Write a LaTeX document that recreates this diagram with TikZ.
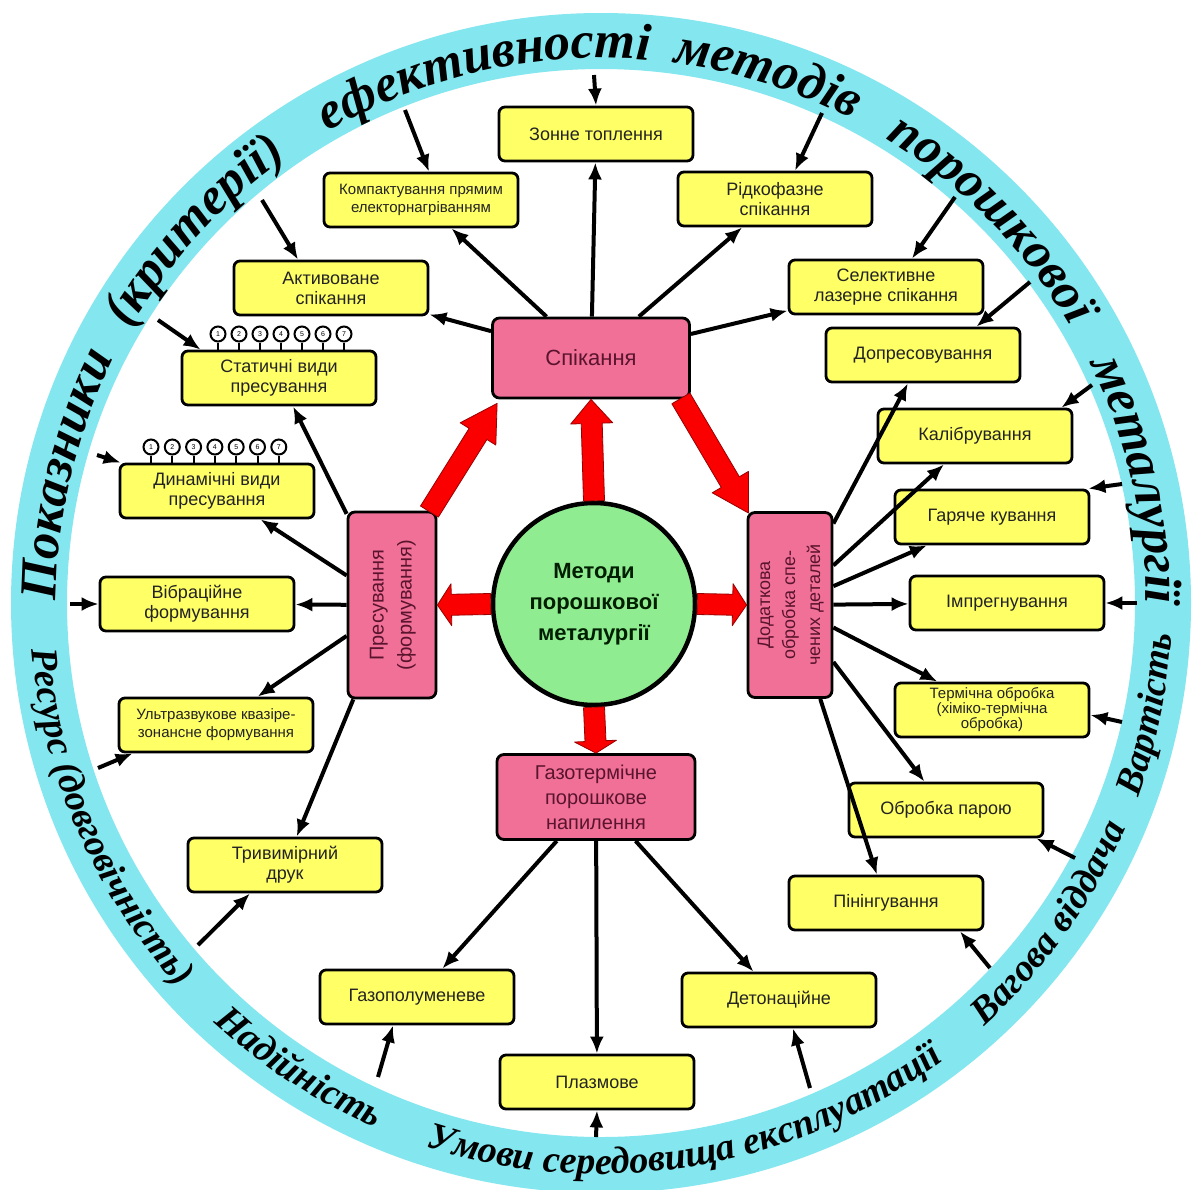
\documentclass[tikz,border=0pt]{standalone}
\usepackage{fontspec}
\setmainfont{Liberation Sans}
\newfontfamily\ringfont{Liberation Serif}
\usetikzlibrary{arrows.meta,calc,decorations.text}

\definecolor{ringcyan}{RGB}{132,230,238}
\definecolor{boxyellow}{RGB}{255,255,102}
\definecolor{boxpink}{RGB}{240,112,152}
\definecolor{pinktext}{RGB}{90,20,45}
\definecolor{coregreen}{RGB}{144,236,144}
\definecolor{fatred}{RGB}{250,0,0}
\definecolor{boxtext}{RGB}{35,35,35}

\newcommand\topringfont{\ringfont\bfseries\itshape\fontsize{52}{52}\selectfont}
\newcommand\botringfont{\ringfont\bfseries\itshape\fontsize{38}{38}\selectfont}

% word centred on the upper ring, read clockwise: mid angle, radius, text
\newcommand\topword[3]{%
  \path[decorate, decoration={text along path, text align=center,
    text={|\topringfont|#3}}] ($(C)+(#1+40:#2)$) arc[start angle=#1+40, end angle=#1-40, radius=#2];}
% word centred on the lower ring, read counter-clockwise
\newcommand\botword[3]{%
  \path[decorate, decoration={text along path, text align=center,
    text={|\botringfont|#3}}] ($(C)+(#1-40:#2)$) arc[start angle=#1-40, end angle=#1+40, radius=#2];}

% thick red block arrow: [head length] from, to
\newcommand\fatarrow[3][24]{%
  \coordinate (fa-h) at ($(#3)!#1pt!(#2)$);
  \filldraw[fill=fatred, draw=red!60!black, line width=0.8pt, line join=round]
    ($(#2)!10.5pt!90:(#3)$) -- ($(fa-h)!10.5pt!-90:(#2)$) -- ($(fa-h)!21pt!-90:(#2)$)
    -- (#3) -- ($(fa-h)!21pt!90:(#2)$) -- ($(fa-h)!10.5pt!90:(#2)$)
    -- ($(#2)!10.5pt!-90:(#3)$) -- cycle;}

\begin{document}
\begin{tikzpicture}[x=1pt,y=1pt,
  ybox/.style={draw=black, line width=2.8pt, fill=boxyellow, rounded corners=6pt,
    minimum width=194pt, minimum height=54pt, align=center, inner sep=2pt,
    text=boxtext, font=\fontsize{18}{20}\selectfont},
  pbox/.style={draw=black, line width=2.8pt, fill=boxpink, rounded corners=7pt,
    align=center, text=pinktext, inner sep=2pt},
  link/.style={line width=4pt, -{Latex[length=17pt,width=14pt]}},
  pinball/.style={circle, draw=black, line width=2pt, fill=white, minimum size=15pt,
    inner sep=0pt, font=\fontsize{7}{7}\selectfont},
  pinline/.style={line width=2pt}]
\useasboundingbox (0,0) rectangle (1201,-1189);
\fill[white] (0,0) rectangle (1201,-1189);

% ---- outer ring of criteria ----
\coordinate (C) at (601,-603);
\fill[ringcyan, even odd rule] (C) circle[radius=590pt] (C) circle[radius=534pt];

\topword{166.5}{545pt}{Показники}
\topword{137.5}{545pt}{(критерії)}
\topword{102.5}{545pt}{ефективності}
\topword{72.5}{545pt}{методів}
\topword{44.5}{545pt}{порошкової}
\topword{13}{545pt}{металургії}

\botword{203.5}{571pt}{Ресурс (довговічність)}
\botword{237}{571pt}{Надійність}
\botword{279.5}{571pt}{Умови середовища експлуатації}
\botword{324.5}{571pt}{Вагова віддача}
\botword{348.5}{571pt}{Вартість}

% ---- centre and main groups ----
\node[circle, draw=black, line width=4.5pt, fill=coregreen, minimum size=202pt,
  align=center, text=black!80!green!60!black, font=\bfseries\fontsize{22}{31}\selectfont]
  (core) at (594,-604) {Методи\\порошкової\\металургії};

\node[pbox, minimum width=197pt, minimum height=80pt, font=\fontsize{22}{24}\selectfont]
  (spik) at (591,-358) {Спікання};
\node[pbox, minimum width=88pt, minimum height=186pt, font=\fontsize{20}{28}\selectfont]
  (pres) at (392,-605) {\rotatebox{90}{\begin{tabular}{@{}c@{}}Пресування\\(формування)\end{tabular}}};
\node[pbox, minimum width=84pt, minimum height=185pt, font=\fontsize{18}{25}\selectfont]
  (dod) at (790,-605) {\rotatebox{90}{\begin{tabular}{@{}c@{}}Додаткова\\обробка спе-\\чених деталей\end{tabular}}};
\node[pbox, minimum width=198pt, minimum height=85pt, font=\fontsize{20}{25}\selectfont]
  (gazo) at (596,-797) {Газотермічне\\порошкове\\напилення};

% ---- sintering methods ----
\node[ybox] (zonne) at (596,-134) {Зонне топлення};
\node[ybox, font=\fontsize{15}{18}\selectfont] (komp) at (421,-200) {Компактування прямим\\електорнагріванням};
\node[ybox] (ridk) at (775,-199) {Рідкофазне\\спікання};
\node[ybox] (aktiv) at (331,-288) {Активоване\\спікання};
\node[ybox] (selek) at (886,-287) {Селективне\\лазерне спікання};

% ---- pressing methods ----
\node[ybox] (stat) at (279,-378) {Статичні види\\пресування};
\node[ybox] (dyn) at (217,-491) {Динамічні види\\пресування};
\node[ybox] (vibr) at (197,-604) {Вібраційне\\формування};
\node[ybox, font=\fontsize{15}{18}\selectfont] (ultra) at (216,-725) {Ультразвукове квазіре-\\зонансне формування};
\node[ybox] (triv) at (285,-865) {Тривимірний\\друк};

% ---- spraying methods ----
\node[ybox] (gazop) at (417,-997) {Газополуменеве};
\node[ybox] (plazm) at (597,-1082) {Плазмове};
\node[ybox] (deton) at (779,-1000) {Детонаційне};

% ---- after-treatment of sintered parts ----
\node[ybox] (dopr) at (923,-355) {Допресовування};
\node[ybox] (kal) at (975,-436) {Калібрування};
\node[ybox] (gar) at (992,-517) {Гаряче кування};
\node[ybox] (impr) at (1007,-603) {Імпрегнування};
\node[ybox, font=\fontsize{15}{15}\selectfont] (term) at (992,-710) {Термічна обробка\\(хіміко-термічна\\обробка)};
\node[ybox] (para) at (946,-810) {Обробка парою};
\node[ybox] (pin) at (886,-903) {Пінінгування};

% ---- numbered pins above the pressing boxes ----
\foreach \i in {1,...,7} {
  \node[pinball] (st\i) at ({218+21*(\i-1)},-334) {\i};
  \draw[pinline] (st\i.south) -- (st\i.south |- stat.north);
  \node[pinball] (dy\i) at ({151+21.3*(\i-1)},-447) {\i};
  \draw[pinline] (dy\i.south) -- (dy\i.south |- dyn.north);
}

% ---- connectors from the groups ----
\foreach \t in {zonne,komp,ridk,aktiv,selek} \draw[link] (spik) -- (\t);
\foreach \t in {stat,dyn,vibr,ultra,triv} \draw[link] (pres) -- (\t);
\foreach \t in {dopr,kal,gar,impr,term,para,pin} \draw[link] (dod) -- (\t);
\foreach \t in {gazop,plazm,deton} \draw[link] (gazo) -- (\t);

% ---- criteria acting on each method ----
\coordinate (r-zonne) at (594,-75);
\coordinate (r-komp) at (405,-110);
\coordinate (r-ridk) at (822,-113);
\coordinate (r-aktiv) at (262,-200);
\coordinate (r-selek) at (955,-197);
\coordinate (r-stat) at (158,-320);
\coordinate (r-dyn) at (97,-455);
\coordinate (r-vibr) at (70,-604);
\coordinate (r-ultra) at (98,-768);
\coordinate (r-triv) at (198,-945);
\coordinate (r-gazop) at (378,-1077);
\coordinate (r-plazm) at (596,-1137);
\coordinate (r-deton) at (810,-1088);
\coordinate (r-pin) at (990,-968);
\coordinate (r-para) at (1075,-858);
\coordinate (r-term) at (1122,-722);
\coordinate (r-impr) at (1137,-603);
\coordinate (r-gar) at (1122,-484);
\coordinate (r-kal) at (1092,-385);
\coordinate (r-dopr) at (1030,-282);

\draw[link] (r-zonne) -- (zonne.north);
\draw[link] (r-komp) -- ([xshift=8pt]komp.north);
\draw[link] (r-ridk) -- ([xshift=20pt]ridk.north);
\draw[link] (r-aktiv) -- ([xshift=-33pt]aktiv.north);
\draw[link] (r-selek) -- ([xshift=26pt]selek.north);
\draw[link] (r-stat) -- ([xshift=20pt]stat.north west);
\draw[link] (r-dyn) -- ([xshift=2pt]dyn.north west);
\draw[link] (r-vibr) -- (vibr.west);
\draw[link] (r-ultra) -- ([xshift=15pt]ultra.south west);
\draw[link] (r-triv) -- ([xshift=-35pt]triv.south);
\draw[link] (r-gazop) -- ([xshift=-24pt]gazop.south);
\draw[link] (r-plazm) -- (plazm.south);
\draw[link] (r-deton) -- ([xshift=14pt]deton.south);
\draw[link] (r-pin) -- ([xshift=74pt]pin.south);
\draw[link] (r-para) -- ([xshift=-8pt]para.south east);
\draw[link] (r-term) -- ([yshift=-5pt]term.east);
\draw[link] (r-impr) -- (impr.east);
\draw[link] (r-gar) -- ([xshift=-2pt]gar.north east);
\draw[link] (r-kal) -- ([xshift=-12pt]kal.north east);
\draw[link] (r-dopr) -- ([xshift=-45pt]dopr.north east);

% ---- red flow arrows ----
\fatarrow[14]{core.west}{pres.east}
\fatarrow[14]{core.east}{dod.west}
\fatarrow[24]{core.north}{spik.south}
\fatarrow[12]{core.south}{gazo.north}
\coordinate (pres-out) at ([xshift=-8pt,yshift=-1pt]pres.north east);
\coordinate (spik-in) at ([xshift=6pt,yshift=-4pt]spik.south west);
\fatarrow[36]{pres-out}{spik-in}
\coordinate (spik-out) at ([xshift=-10pt,yshift=1pt]spik.south east);
\coordinate (dod-in) at ([xshift=2pt,yshift=-2pt]dod.north west);
\fatarrow[36]{spik-out}{dod-in}
\end{tikzpicture}
\end{document}
